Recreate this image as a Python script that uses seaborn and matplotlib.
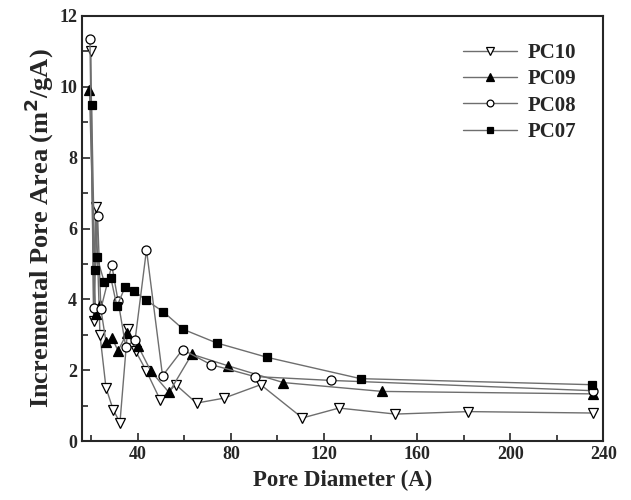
import numpy as np
import pandas as pd
import matplotlib
matplotlib.use("Agg")
import matplotlib.pyplot as plt
from matplotlib.ticker import MultipleLocator
import seaborn as sns

# values
pc10_x = [19.8, 21.0, 22.0, 23.7, 26.3, 29.4, 32.3, 35.6, 39.1, 43.7, 49.6, 56.3, 65.2, 77.0, 92.8, 110.7, 126.4, 150.7, 182.0, 235.6]
pc10_y = [11.0, 3.4, 6.6, 3.0, 1.5, 0.88, 0.52, 3.15, 2.53, 1.97, 1.16, 1.59, 1.07, 1.21, 1.59, 0.65, 0.93, 0.76, 0.83, 0.79]

pc09_x = [19.2, 21.8, 23.8, 26.3, 28.9, 31.5, 35.3, 40.1, 45.6, 53.4, 63.2, 78.9, 102.5, 145.0, 235.6]
pc09_y = [9.9, 3.6, 3.85, 2.8, 2.9, 2.55, 3.05, 2.68, 1.97, 1.37, 2.45, 2.12, 1.65, 1.4, 1.33]

pc08_x = [19.4, 21.0, 22.7, 24.1, 28.8, 31.5, 34.8, 38.8, 43.7, 50.6, 59.2, 71.3, 90.2, 123.1, 235.6]
pc08_y = [11.35, 3.75, 6.35, 3.73, 4.96, 3.95, 2.66, 2.85, 5.4, 1.84, 2.58, 2.16, 1.82, 1.71, 1.42]

pc07_x = [20.1, 21.5, 22.4, 25.5, 28.4, 31.0, 34.5, 38.2, 43.7, 50.9, 59.6, 73.8, 95.7, 135.7, 235.1]
pc07_y = [9.5, 4.82, 5.2, 4.5, 4.6, 3.8, 4.35, 4.24, 3.97, 3.65, 3.15, 2.77, 2.36, 1.76, 1.59]

series = [
    ("PC10", pc10_x, pc10_y, "v", "white", 7.5),
    ("PC09", pc09_x, pc09_y, "^", "black", 7.5),
    ("PC08", pc08_x, pc08_y, "o", "white", 6.5),
    ("PC07", pc07_x, pc07_y, "s", "black", 6),
]

sns.set_style("ticks")
plt.rcParams['font.family'] = ['Liberation Serif', 'DejaVu Serif']
plt.rcParams['font.weight'] = 'bold'

fig = plt.figure(figsize=(6.31, 5.0), dpi=100)
ax = fig.add_axes([0.130, 0.118, 0.826, 0.850])

for name, xs, ys, mk, fc, ms in series:
    df = pd.DataFrame({"x": xs, "y": ys})
    sns.lineplot(data=df, x="x", y="y", ax=ax, color="#6e6e6e", linewidth=1.0,
                 marker=mk, markersize=ms, markerfacecolor=fc,
                 markeredgecolor="black", markeredgewidth=0.9, label=name)

ax.set_xlim(16, 240)
ax.set_ylim(0, 12)
ax.xaxis.set_major_locator(MultipleLocator(40))
ax.xaxis.set_minor_locator(MultipleLocator(20))
ax.yaxis.set_major_locator(MultipleLocator(2))
ax.yaxis.set_minor_locator(MultipleLocator(1))
ax.tick_params(which="both", direction="in", top=False, right=False, width=1.2)
ax.tick_params(which="major", length=6, labelsize=13)
ax.tick_params(which="minor", length=4)
for lab in ax.get_xticklabels() + ax.get_yticklabels():
    lab.set_fontweight("bold")
for sp in ax.spines.values():
    sp.set_linewidth(1.5)

ax.set_xlabel("Pore Diameter (A)", fontsize=16.5, fontweight="bold", labelpad=5)
ax.set_ylabel("Incremental Pore Area (m$^\\mathbf{2}$/gA)", fontsize=19, fontweight="bold", labelpad=2)

leg = ax.legend(loc="upper right", frameon=False, fontsize=15, markerscale=0.75,
                handlelength=2.6, handletextpad=0.5, labelspacing=0.3,
                borderaxespad=0.9)
for t in leg.get_texts():
    t.set_fontweight("bold")

fig.savefig("out.png", dpi=100)
